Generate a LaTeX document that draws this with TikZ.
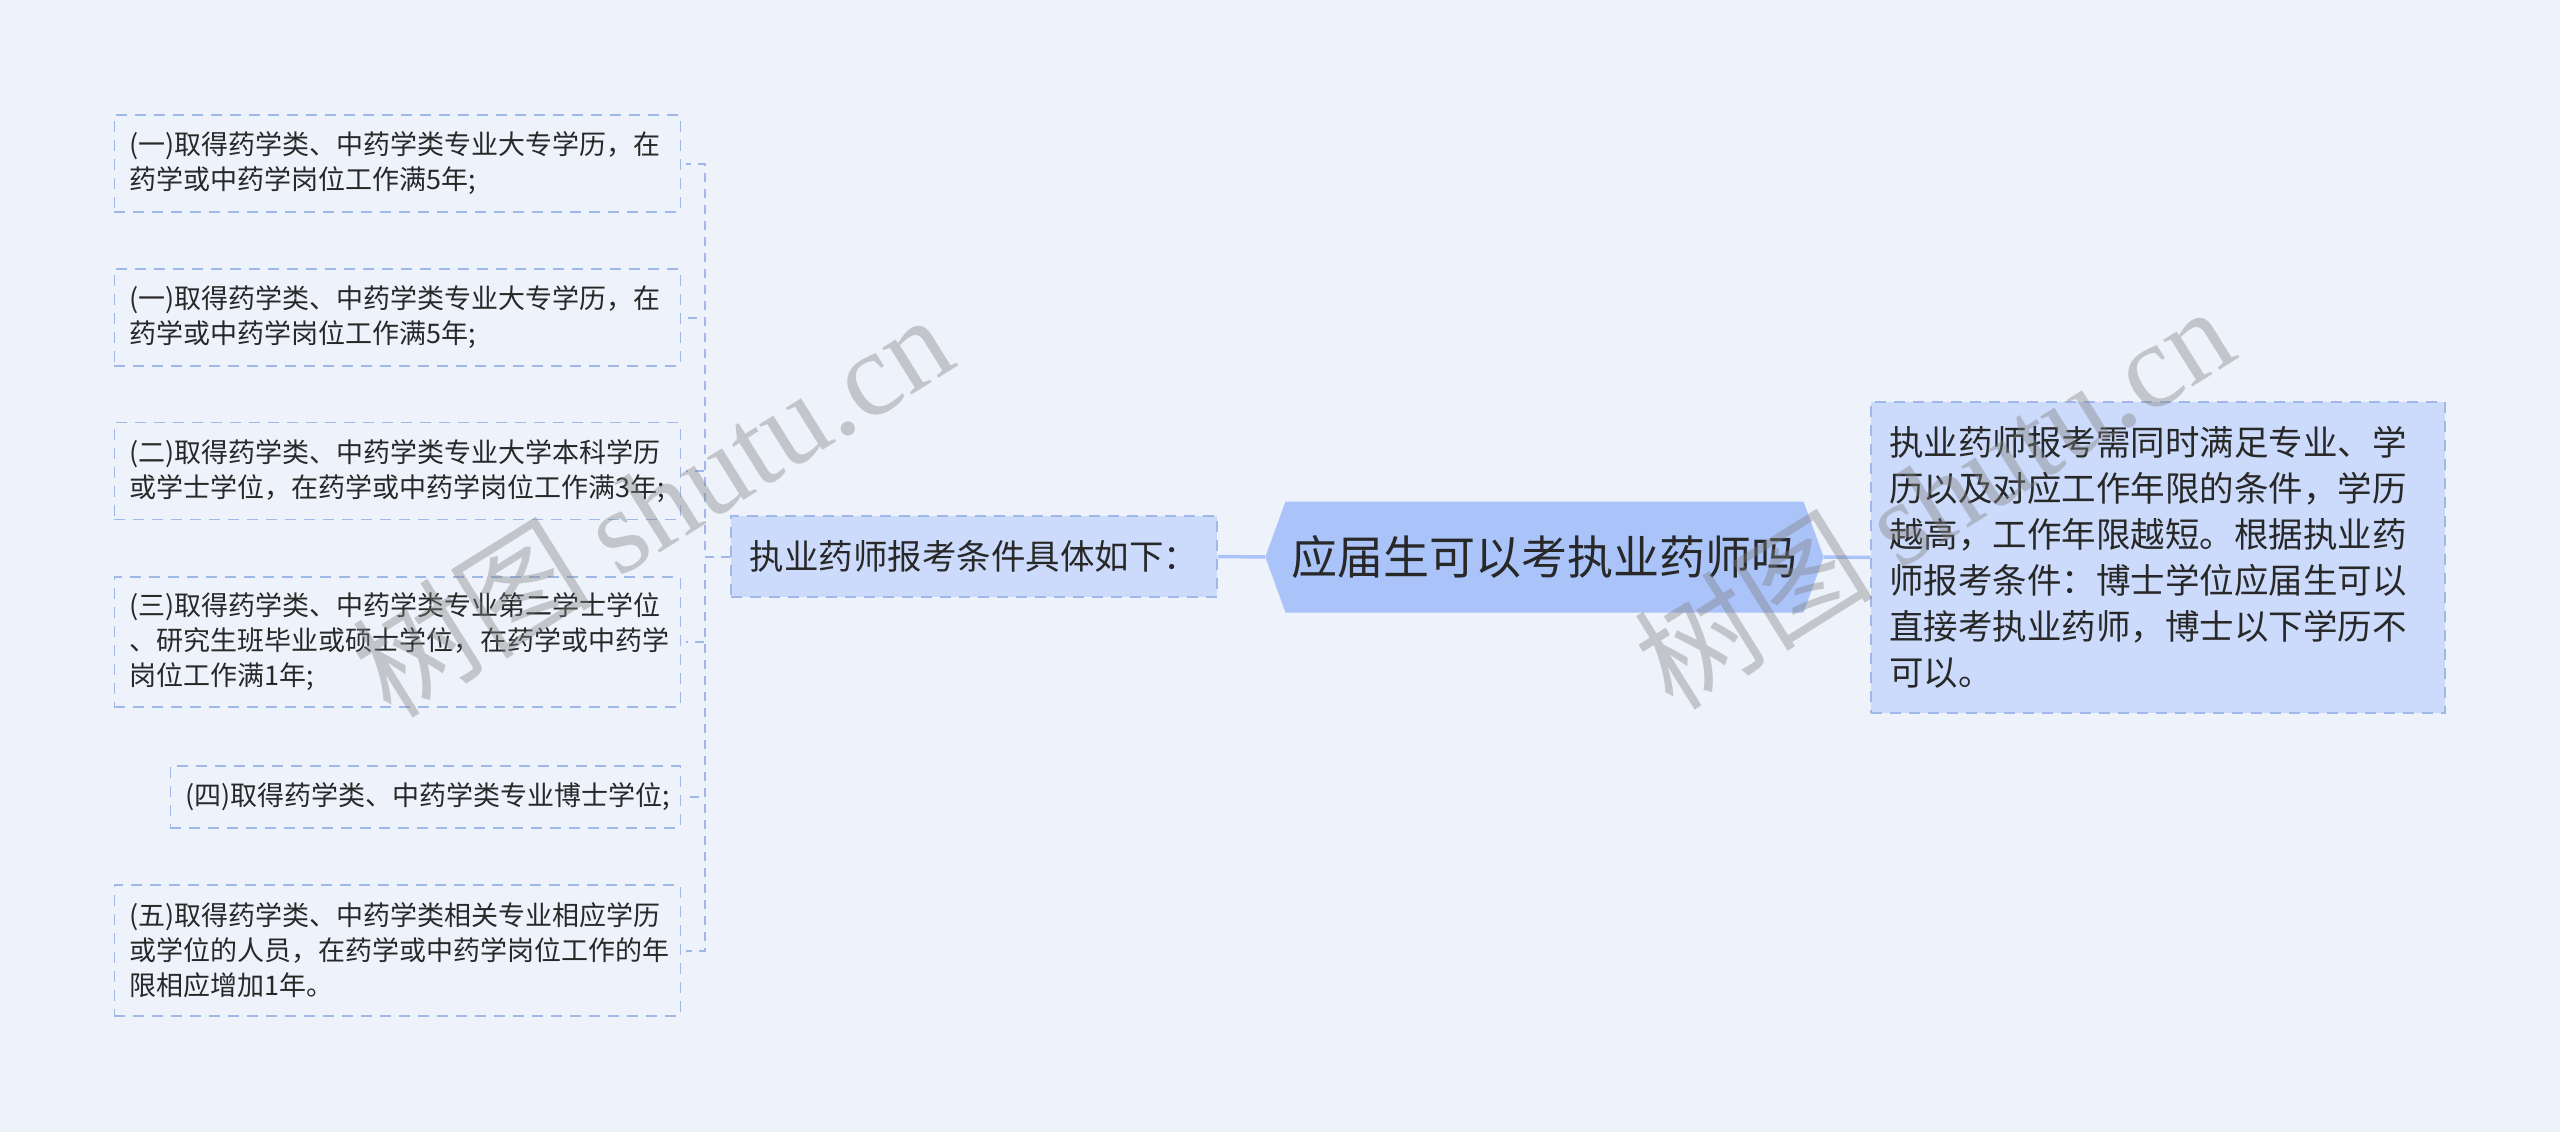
\documentclass[tikz,border=0pt]{standalone}
\usepackage{fontspec}
\setmainfont{Noto Sans CJK SC}
\newfontfamily\wmlatin{Liberation Serif}
\usetikzlibrary{shapes.symbols}
\definecolor{bgcol}{RGB}{238,243,251}
\definecolor{linecol}{RGB}{160,184,232}
\definecolor{hubcol}{RGB}{170,195,249}
\definecolor{boxcol}{RGB}{204,219,251}
\definecolor{inkcol}{RGB}{40,40,40}

\begin{document}
\begin{tikzpicture}[x=1pt, y=-1pt,
    leaf/.style={draw=linecol, line width=1.5pt, dash pattern=on 11pt off 8pt,
      anchor=east, align=left, inner xsep=15pt, inner ysep=0pt, text=inkcol,
      font=\fontsize{27}{35}\selectfont},
    boxed/.style={fill=boxcol, draw=linecol, line width=1.5pt,
      dash pattern=on 11pt off 8pt, text=inkcol, font=\fontsize{34.5}{46}\selectfont},
    hub/.style={shape=signal, signal to=west and east, signal pointer angle=140,
      fill=hubcol, inner xsep=6pt, minimum height=111pt, text=inkcol,
      font=\fontsize{46}{50}\selectfont},
    link/.style={draw=linecol, line width=2pt, dash pattern=on 9pt off 7pt},
    trunk/.style={draw=hubcol, line width=3.5pt},
    wmark/.style={text=gray, opacity=.4, rotate=32, font=\fontsize{120}{120}\selectfont}]
  \fill[bgcol] (0,0) rectangle (2560,1132);
  \useasboundingbox (0,0) rectangle (2560,1132);

  % Centre and branches:
  \node[hub] (hub) at (1544.5,557) {应届生可以考执业药师吗};
  \node[boxed, minimum width=486pt, minimum height=81pt] (mid) at (974,556.5)
    {执业药师报考条件具体如下：};
  \node[boxed, align=left, text width=538pt, inner xsep=18pt, minimum height=311pt]
    (note) at (2158,557.5)
    {执业药师报考需同时满足专业、学\\历以及对应工作年限的条件，学历\\越高，工作年限越短。根据执业药\\师报考条件：博士学位应届生可以\\直接考执业药师，博士以下学历不\\可以。};
  \draw[trunk] (mid.east) -- (hub.west);
  \draw[trunk] (hub.east) -- (note.west);

  % Conditions:
  \node[leaf, text width=536pt, minimum height=97pt] (c1) at (681,163.5)
    {(一)取得药学类、中药学类专业大专学历，在\\药学或中药学岗位工作满5年;};
  \node[leaf, text width=536pt, minimum height=97pt] (c2) at (681,317.5)
    {(一)取得药学类、中药学类专业大专学历，在\\药学或中药学岗位工作满5年;};
  \node[leaf, text width=536pt, minimum height=97pt] (c3) at (681,471)
    {(二)取得药学类、中药学类专业大学本科学历\\或学士学位，在药学或中药学岗位工作满3年;};
  \node[leaf, text width=536pt, minimum height=130pt] (c4) at (681,642)
    {(三)取得药学类、中药学类专业第二学士学位\\、研究生班毕业或硕士学位，在药学或中药学\\岗位工作满1年;};
  \node[leaf, text width=480pt, minimum height=62pt] (c5) at (681,797)
    {(四)取得药学类、中药学类专业博士学位;};
  \node[leaf, text width=536pt, minimum height=131pt] (c6) at (681,950.5)
    {(五)取得药学类、中药学类相关专业相应学历\\或学位的人员，在药学或中药学岗位工作的年\\限相应增加1年。};
  \foreach \c in {c1,c2,c3,c4,c5,c6}
    \draw[link] (mid.west) -- ++(-25,0) |- ([xshift=5pt]\c.east);

  % Watermarks:
  \node[wmark] (wm1) at (652,504) {树图 {\wmlatin shutu.cn}};
  \node[wmark] (wm2) at (1933,496) {树图 {\wmlatin shutu.cn}};
\end{tikzpicture}
\end{document}
